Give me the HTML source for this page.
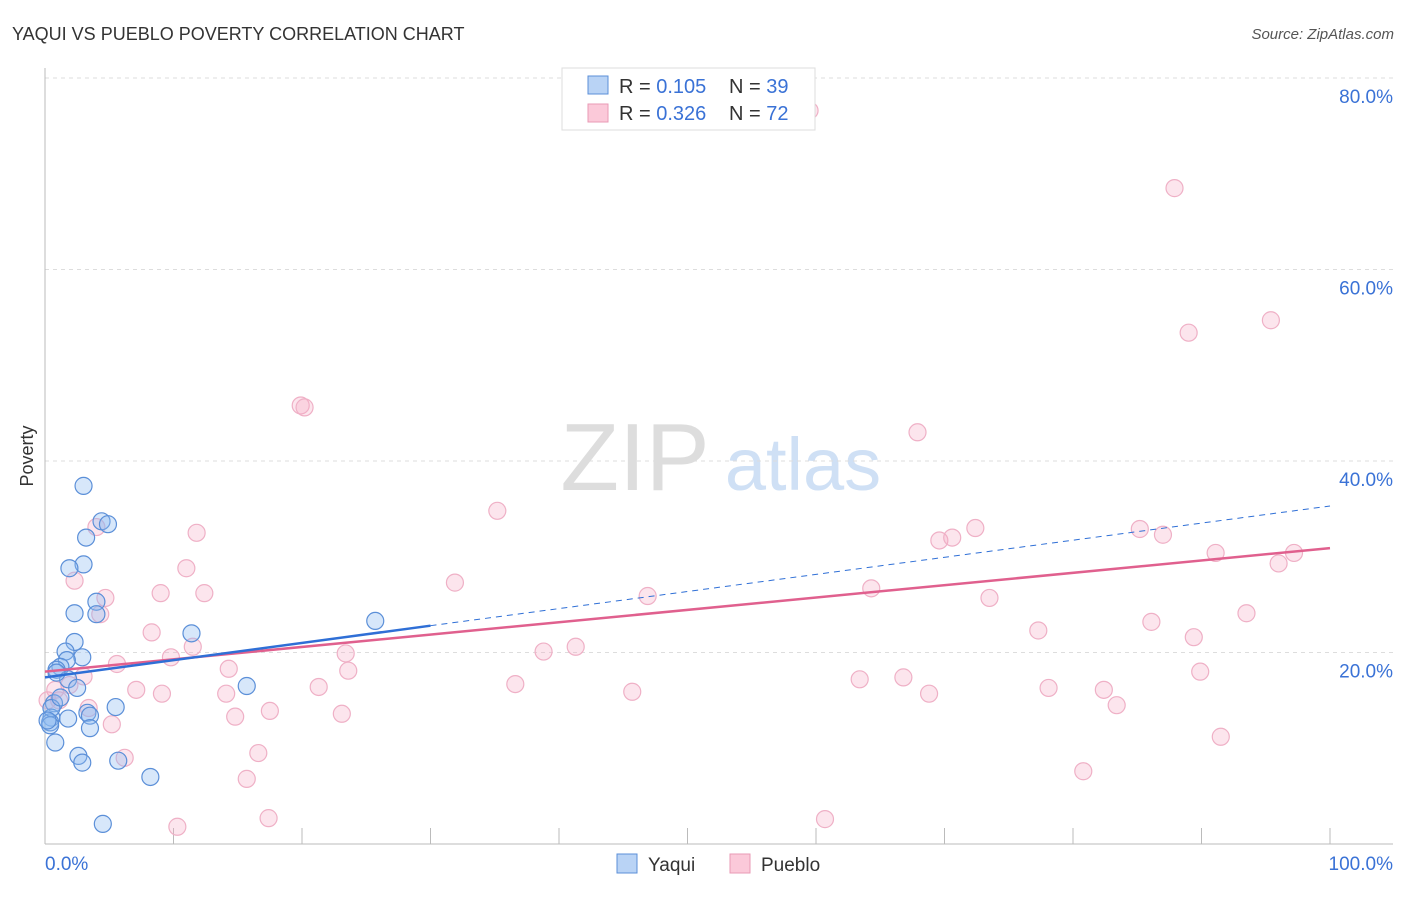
<!DOCTYPE html>
<html><head><meta charset="utf-8"><style>
body{margin:0;background:#fff;font-family:"Liberation Sans",sans-serif}
svg text{font-family:"Liberation Sans",sans-serif}
</style></head><body>
<svg id="chart" width="1406" height="892" xmlns="http://www.w3.org/2000/svg">
<text x="12" y="40" font-size="18" fill="#333">YAQUI VS PUEBLO POVERTY CORRELATION CHART</text>
<text x="1394" y="39" font-size="15" fill="#555" font-style="italic" text-anchor="end">Source: ZipAtlas.com</text>
<text x="635" y="490" font-size="96" fill="#ddd" font-family="Liberation Serif" text-anchor="middle">ZIP</text>
<text x="803" y="490" font-size="74" fill="#cfe0f5" text-anchor="middle">atlas</text>
<g id="grid"></g>
<g id="axes"></g>
<g id="pts"></g>
<g id="lines"></g>
<text x="33" y="456" font-size="18" fill="#333" transform="rotate(-90 33 456)" text-anchor="middle">Poverty</text>
<g>
<rect x="562" y="68" width="253" height="62" fill="#fff" stroke="#ddd"/>
<rect x="588" y="76" width="20" height="18" fill="#b9d3f5" stroke="#5b8fd8"/>
<text x="619" y="93" font-size="20" fill="#333">R = <tspan fill="#3a72d6">0.105</tspan></text>
<text x="729" y="93" font-size="20" fill="#333">N = <tspan fill="#3a72d6">39</tspan></text>
<rect x="588" y="104" width="20" height="18" fill="#fbc9d9" stroke="#e89ab5"/>
<text x="619" y="120" font-size="20" fill="#333">R = <tspan fill="#3a72d6">0.326</tspan></text>
<text x="729" y="120" font-size="20" fill="#333">N = <tspan fill="#3a72d6">72</tspan></text>
</g>
<g><rect x="617" y="854" width="20" height="19" fill="#b9d3f5" stroke="#5b8fd8"/><text x="648" y="871" font-size="19" fill="#333">Yaqui</text></g>
<g><rect x="730" y="854" width="20" height="19" fill="#fbc9d9" stroke="#e89ab5"/><text x="761" y="871" font-size="19" fill="#333">Pueblo</text></g>
</svg>
<script>
const yTicks=[20,40,60,80];
const yTickLabels=["20.0%","40.0%","60.0%","80.0%"];
const xTickLabels=["0.0%","100.0%"];
const yaquiX=[3.0,4.4,4.9,3.2,3.0,1.9,4.0,2.3,4.0,11.4,2.3,25.7,1.6,2.9,1.7,1.2,0.9,1.8,2.5,15.7,5.5,3.3,3.5,0.7,0.5,1.8,0.4,3.5,0.4,0.8,2.6,2.9,5.7,8.2,4.5,0.5,1.2,0.9,0.2];
const yaquiY=[37.4,33.7,33.4,32.0,29.2,28.8,25.3,24.1,24.0,22.0,21.1,23.3,20.1,19.5,19.2,18.5,18.2,17.2,16.3,16.5,14.3,13.7,13.4,14.7,13.2,13.1,12.7,12.1,12.4,10.6,9.2,8.5,8.7,7.0,2.1,14.2,15.3,17.9,12.9];
const puebloX=[59.5,87.9,95.4,89.0,19.9,20.2,67.9,35.2,72.4,69.6,70.6,85.2,87.0,4.0,11.8,91.1,97.2,96.0,31.9,11.0,2.3,9.0,12.4,4.7,64.3,46.9,73.5,93.5,86.1,77.3,8.3,89.4,41.3,38.8,23.4,11.5,9.8,5.6,14.3,23.6,89.9,63.4,66.8,45.7,36.6,21.3,7.1,9.1,14.1,78.1,82.4,68.8,83.4,14.8,17.5,23.1,5.2,3.4,1.1,3.0,16.6,6.2,15.7,80.8,91.5,17.4,10.3,60.7,1.9,4.3,0.2,0.8];
const puebloY=[76.6,68.5,54.7,53.4,45.8,45.6,43.0,34.8,33.0,31.7,32.0,32.9,32.3,33.1,32.5,30.4,30.4,29.3,27.3,28.8,27.5,26.2,26.2,25.7,26.7,25.9,25.7,24.1,23.2,22.3,22.1,21.6,20.6,20.1,19.9,20.6,19.5,18.8,18.3,18.1,18.0,17.2,17.4,15.9,16.7,16.4,16.1,15.7,15.7,16.3,16.1,15.7,14.5,13.3,13.9,13.6,12.5,14.2,15.0,17.5,9.5,9.0,6.8,7.6,11.2,2.7,1.8,2.6,16.6,24.0,15.0,16.1];
const yaquiTrend=[17.4,22.8,35.3];   // at x=0, 30, 100
const puebloTrend=[18.0,30.9];       // at x=0, 100
const NS="http://www.w3.org/2000/svg";
const X=v=>45+v*12.85, Y=v=>844-v*9.575;
function mk(tag,attrs,parent){const e=document.createElementNS(NS,tag);for(const k in attrs)e.setAttribute(k,attrs[k]);document.getElementById(parent).appendChild(e);return e;}
yTicks.forEach((t,i)=>{
  const l=mk('line',{x1:45,x2:1393,y1:Y(t),y2:Y(t),stroke:'#ddd','stroke-dasharray':'4,4'},'grid');
  
  
  const tx=mk('text',{x:1393,y:Y(t)+25,'font-size':19,fill:'#3a72d6','text-anchor':'end'},'grid');
  tx.textContent=yTickLabels[i];
  
  
});
const ax=mk('line',{x1:45,x2:45,y1:68,y2:844,stroke:'#bbb'},'axes');


const bx=mk('line',{x1:45,x2:1393,y1:844,y2:844,stroke:'#bbb'},'axes');


for(let i=1;i<=10;i++){const t=mk('line',{x1:X(i*10),x2:X(i*10),y1:828,y2:844,stroke:'#bbb'},'axes');
  
  }
[[0,'start'],[100,'end']].forEach((p,i)=>{const t=mk('text',{x:p[0]?1393:45,y:870,'font-size':19,fill:'#3a72d6','text-anchor':p[1]},'axes');t.textContent=xTickLabels[i];
  
  });
puebloX.forEach((x,i)=>{const c=mk('circle',{cx:X(x),cy:Y(puebloY[i]),r:8.5,fill:'rgba(246,170,196,0.3)',stroke:'#efb0c6','stroke-width':1.2},'pts');
  
  });
yaquiX.forEach((x,i)=>{const c=mk('circle',{cx:X(x),cy:Y(yaquiY[i]),r:8.5,fill:'rgba(140,185,240,0.35)',stroke:'#5b8fd8','stroke-width':1.2},'pts');
  
  });
const pl=mk('line',{x1:X(0),y1:Y(puebloTrend[0]),x2:X(100),y2:Y(puebloTrend[1]),stroke:'#e0608e','stroke-width':2.5},'lines');


const bl=mk('line',{x1:X(0),y1:Y(yaquiTrend[0]),x2:X(30),y2:Y(yaquiTrend[1]),stroke:'#2f6fd6','stroke-width':2.5},'lines');


const bd=mk('line',{x1:X(30),y1:Y(yaquiTrend[1]),x2:X(100),y2:Y(yaquiTrend[2]),stroke:'#2f6fd6','stroke-width':1,'stroke-dasharray':'6,5'},'lines');


</script>
</body></html>
